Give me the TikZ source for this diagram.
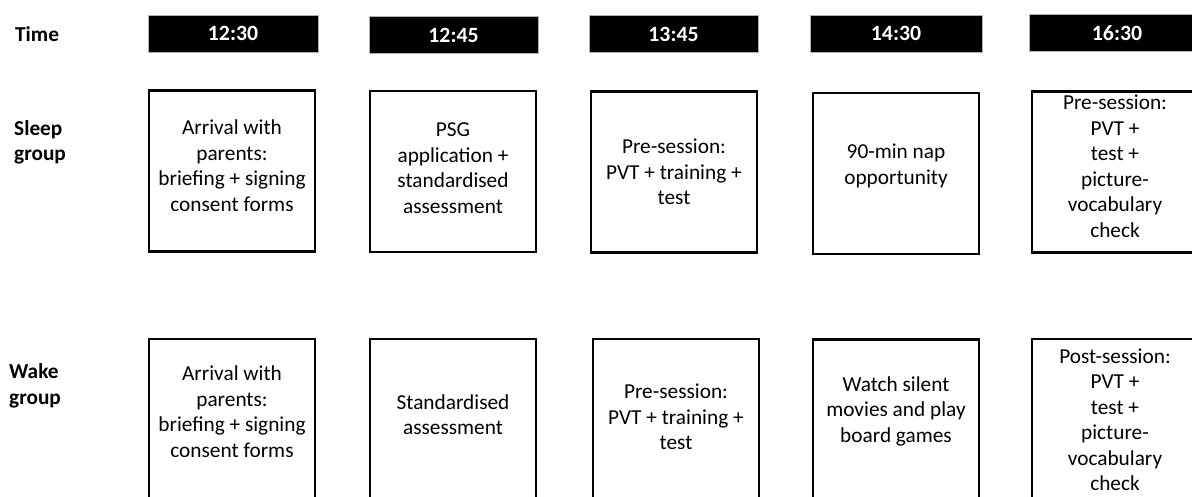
\documentclass[tikz,border=0pt]{standalone}
\usepackage{fontspec}
\setmainfont{Carlito}
\begin{document}
\begin{tikzpicture}[x=1pt,y=-1pt,
  every node/.style={font=\fontsize{21.3}{25.5}\selectfont, inner sep=0pt},
  timebar/.style={fill=black, draw=gray!60, line width=0.8pt, minimum height=37pt, text=white, font=\fontsize{21.8}{25.5}\selectfont\bfseries},
  stepbox/.style={draw=black, line width=2.7pt, minimum width=166pt, minimum height=161pt},
  boxtext/.style={align=center},
  rowlabel/.style={anchor=west, align=left, font=\fontsize{21.3}{25.5}\selectfont\bfseries}]
\useasboundingbox (0,0) rectangle (1192,497);
\clip (0,0) rectangle (1192,497);

% row labels
\node[rowlabel] (tlab) at (15,34) {Time};
\node[rowlabel] (slab) at (14,142.5) {Sleep\\group};
\node[rowlabel] (wlab) at (9,386) {Wake\\group};

% time bars
\node[timebar, minimum width=170pt] (t1) at (233,33.5) {12:30};
\node[timebar, minimum width=169pt] (t2) at (453.5,35) {12:45};
\node[timebar, minimum width=169pt] (t3) at (673.5,34) {13:45};
\node[timebar, minimum width=172pt] (t4) at (896,33.5) {14:30};
\node[timebar, minimum width=176pt] (t5) at (1117,33) {16:30};

% sleep group
\node[stepbox] (s1) at (232,171) {};
\node[stepbox] (s2) at (453,171.5) {};
\node[stepbox] (s3) at (674,172) {};
\node[stepbox] (s4) at (896,173.5) {};
\node[stepbox] (s5) at (1115,172) {};
\node[boxtext] (s1t) at (232,165.5) {Arrival with\\parents:\\briefing + signing\\consent forms};
\node[boxtext] (s2t) at (453,168) {PSG\\application +\\standardised\\assessment};
\node[boxtext] (s3t) at (674,172) {Pre-session:\\PVT + training +\\test};
\node[boxtext] (s4t) at (896,166) {90-min nap\\opportunity};
\node[boxtext] (s5t) at (1115,166) {Pre-session:\\PVT +\\test +\\picture-\\vocabulary\\check};

% wake group
\node[stepbox] (w1) at (232,419.5) {};
\node[stepbox] (w2) at (453,419.5) {};
\node[stepbox] (w3) at (676,419.5) {};
\node[stepbox] (w4) at (896,420) {};
\node[stepbox] (w5) at (1115,419.5) {};
\node[boxtext] (w1t) at (232,411.5) {Arrival with\\parents:\\briefing + signing\\consent forms};
\node[boxtext] (w2t) at (453,414.5) {Standardised\\assessment};
\node[boxtext] (w3t) at (676,417) {Pre-session:\\PVT + training +\\test};
\node[boxtext] (w4t) at (896,411) {Watch silent\\movies and play\\board games};
\node[boxtext] (w5t) at (1115,419.5) {Post-session:\\PVT +\\test +\\picture-\\vocabulary\\check};
\end{tikzpicture}
\end{document}
